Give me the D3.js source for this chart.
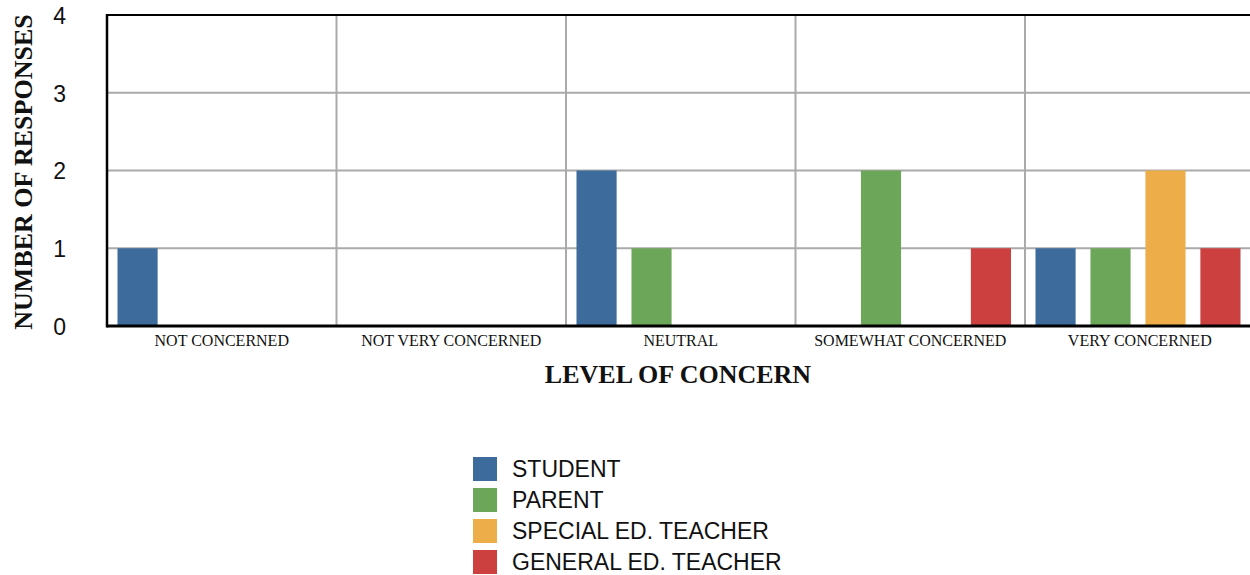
<!DOCTYPE html>
<html><head><meta charset="utf-8">
<script src="https://cdn.jsdelivr.net/npm/d3@7"></script>
<style>body{margin:0;background:#fff;overflow:hidden}</style>
</head><body><svg id="c" width="1250" height="575"></svg>
<script>
const categories = ["NOT CONCERNED","NOT VERY CONCERNED","NEUTRAL","SOMEWHAT CONCERNED","VERY CONCERNED"];
const seriesNames = ["STUDENT","PARENT","SPECIAL ED. TEACHER","GENERAL ED. TEACHER"];
const student = [1,0,2,0,1];
const parent = [0,0,1,2,1];
const specialEd = [0,0,0,0,2];
const generalEd = [0,0,0,1,1];
const yTicks = [0,1,2,3,4];
const colors = ["#3d6b9c","#6ca659","#edae4a","#cc4140"];
const seriesValues = [student,parent,specialEd,generalEd];

const svg = d3.select("#c");
const L=107, T=15, B=326, bandW=229.5;
const x0 = d3.scaleBand().domain(categories).range([L, L+bandW*categories.length]).padding(0);
const x1 = d3.scaleBand().domain(seriesNames).range([10.5,215.5]).paddingInner(0.27).paddingOuter(0);
const y = d3.scaleLinear().domain([0,4]).range([B,T]);

// grid
const g = svg.append("g");
g.selectAll(".hg").data(yTicks.slice(1,4)).join("line")
 .attr("x1",L).attr("x2",1250).attr("y1",d=>y(d)).attr("y2",d=>y(d))
 .attr("stroke","#aaa").attr("stroke-width",2);
g.selectAll(".vg").data(categories.slice(1)).join("line")
 .attr("x1",d=>x0(d)).attr("x2",d=>x0(d)).attr("y1",T).attr("y2",B)
 .attr("stroke","#aaa").attr("stroke-width",2);

// bars
categories.forEach((c,ci)=>{
  seriesNames.forEach((s,si)=>{
    const v = seriesValues[si][ci];
    if(v>0) svg.append("rect").attr("x",x0(c)+x1(s)).attr("width",x1.bandwidth())
      .attr("y",y(v)).attr("height",y(0)-y(v)).attr("fill",colors[si]);
  });
});

// frame
svg.append("line").attr("x1",L).attr("x2",1250).attr("y1",T).attr("y2",T).attr("stroke","#000").attr("stroke-width",2);
svg.append("line").attr("x1",L).attr("x2",L).attr("y1",T-1).attr("y2",B+1.5).attr("stroke","#000").attr("stroke-width",2.5);
svg.append("line").attr("x1",L).attr("x2",1250).attr("y1",B).attr("y2",B).attr("stroke","#000").attr("stroke-width",3);

// y axis
const yAxis = d3.axisLeft(y).tickValues(yTicks).tickSize(0).tickPadding(0).tickFormat(d3.format("d"));
const ya = svg.append("g").attr("transform","translate(66,0)").call(yAxis);
ya.select(".domain").remove();
ya.selectAll("text").attr("font-family","Liberation Sans, Arial, sans-serif").attr("font-size",23).attr("fill","#111").attr("dy","0.36em");

// x axis
const xAxis = d3.axisBottom(x0).tickSize(0).tickPadding(0);
const xa = svg.append("g").attr("transform",`translate(0,${B})`).call(xAxis);
xa.select(".domain").remove();
xa.selectAll("text").attr("font-family","Liberation Serif, Times New Roman, serif").attr("font-size",16).attr("fill","#111").attr("y",9).attr("dy","0.71em");

// titles
svg.append("text").attr("x",678).attr("y",383).attr("text-anchor","middle")
 .attr("font-family","Liberation Serif, serif").attr("font-weight","bold").attr("font-size",26).attr("fill","#111").text("LEVEL OF CONCERN");
svg.append("text").attr("transform","translate(32,172) rotate(-90)").attr("text-anchor","middle")
 .attr("font-family","Liberation Serif, serif").attr("font-weight","bold").attr("font-size",26).attr("fill","#111").text("NUMBER OF RESPONSES");

// legend
const lg = svg.append("g").attr("transform","translate(473,457)");
seriesNames.forEach((s,i)=>{
  lg.append("rect").attr("x",0).attr("y",i*31).attr("width",24).attr("height",24).attr("fill",colors[i]);
  lg.append("text").attr("x",39).attr("y",i*31+12).attr("dy","0.36em")
   .attr("font-family","Liberation Sans, Arial, sans-serif").attr("font-size",23).attr("fill","#111").text(s);
});
</script></body></html>
